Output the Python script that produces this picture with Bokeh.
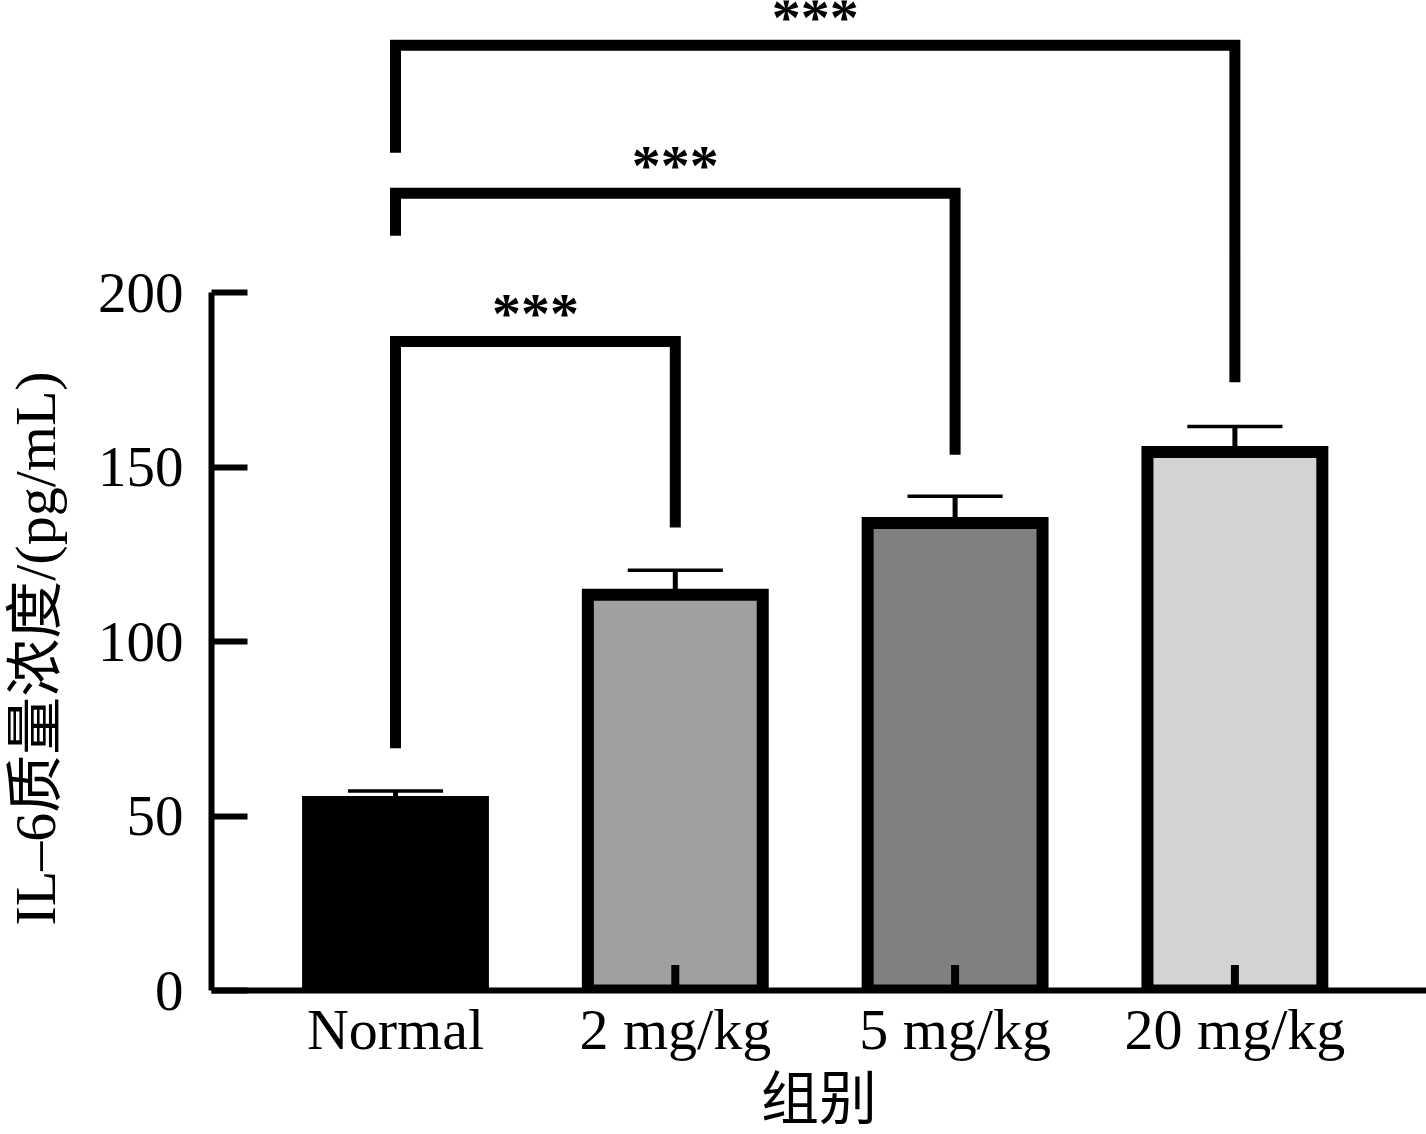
import math
from bokeh.plotting import figure
from bokeh.models import Range1d, FixedTicker, Title
from bokeh.core.properties import value
from bokeh.embed import file_html
from bokeh.resources import INLINE

# ---- data ----
groups = ["Normal", "2 mg/kg", "5 mg/kg", "20 mg/kg"]
means = [54.0, 113.4, 134.0, 154.3]
sds = [3.2, 7.0, 7.6, 7.3]
fills = ["#000000", "#a0a0a0", "#808080", "#d3d3d3"]
lower_stub = [7.3, 7.3, 7.3, 7.3]

y_ticks = [0, 50, 100, 150, 200]

comp_from = [0, 0, 0]
comp_to = [1, 2, 3]
bracket_top = [186.0, 228.5, 270.9]
bracket_left_end = [69.4, 216.3, 240.1]
bracket_right_end = [132.7, 153.5, 174.3]
sig_labels = ["***", "***", "***"]

x_title = "组别"
y_title = "IL–6质量浓度/(pg/mL)"

# ---- styles ----
SERIF = "Liberation Serif"
MIXED = "Liberation Serif, Noto Sans CJK SC"
BAR_W = 0.625
CAP_HALF = 0.17
STAR_GAP = 8.0

xs = list(range(len(groups)))
upper = [m + s for m, s in zip(means, sds)]

p = figure(width=1426, height=1134,
           x_range=Range1d(-0.6576, 3.6848), y_range=Range1d(0, 283.7),
           output_backend="svg", toolbar_location=None,
           min_border_left=211, min_border_right=0, min_border_top=0,
           min_border_bottom=141)
p.outline_line_color = None
p.grid.visible = False
p.background_fill_color = "white"
p.border_fill_color = "white"

# x axis
xa = p.xaxis[0]
xa.ticker = FixedTicker(ticks=xs)
xa.major_label_overrides = {i: g for i, g in zip(xs, groups)}
xa.major_tick_line_color = None
xa.minor_tick_line_color = None
xa.axis_line_width = 6
xa.axis_line_color = "black"
xa.major_label_text_font = SERIF
xa.major_label_text_font_size = "58px"
xa.major_label_text_color = "black"
xa.major_label_standoff = 0
xa.axis_label = x_title
xa.axis_label_text_font = MIXED
xa.axis_label_text_font_size = "58px"
xa.axis_label_text_font_style = "normal"
xa.axis_label_text_color = "black"
xa.axis_label_standoff = 2

# y axis
ya = p.yaxis[0]
ya.bounds = (0, 200)
ya.ticker = FixedTicker(ticks=y_ticks)
ya.major_tick_in = 36
ya.major_tick_out = 0
ya.major_tick_line_width = 6
ya.major_tick_line_color = "black"
ya.minor_tick_line_color = None
ya.axis_line_width = 6
ya.axis_line_color = "black"
ya.major_label_text_font = SERIF
ya.major_label_text_font_size = "57px"
ya.major_label_text_color = "black"
ya.major_label_standoff = 28
# invisible spacer label: only widens the gap between tick labels and title
ya.axis_label = "\u00a0"
ya.axis_label_text_font_size = "2px"
ya.axis_label_standoff = 20

# y axis title placed beside the axis, aligned to the 0-200 span
p.add_layout(Title(text=y_title, align="left", offset=65, standoff=0,
                   vertical_align="top",
                   text_font=MIXED, text_font_size="58px",
                   text_font_style="normal", text_color="black"), "left")

# bars
p.vbar(x=xs, top=means, bottom=0, width=BAR_W, fill_color=fills,
       line_color="black", line_width=12, line_join="miter")

# lower stubs inside bars
p.segment(x0=xs, y0=[0] * len(xs), x1=xs, y1=lower_stub,
          line_color="black", line_width=8)

# error bars
p.segment(x0=xs, y0=means, x1=xs, y1=upper, line_color="black", line_width=5)
p.segment(x0=[x - CAP_HALF for x in xs], y0=upper,
          x1=[x + CAP_HALF for x in xs], y1=upper,
          line_color="black", line_width=3.5)

# significance brackets
bx = [[f, f, t, t] for f, t in zip(comp_from, comp_to)]
by = [[le, tp, tp, re] for le, tp, re in zip(bracket_left_end, bracket_top, bracket_right_end)]
p.multi_line(xs=bx, ys=by, line_color="black", line_width=11,
             line_join="miter", line_cap="butt")

p.text(x=[(f + t) / 2 for f, t in zip(comp_from, comp_to)],
       y=[tp + STAR_GAP for tp in bracket_top], text=sig_labels,
       text_font=value(SERIF), text_font_size="58px", text_font_style="bold",
       text_color="black", text_align="center", text_baseline="middle")

open("out.html", "w").write(file_html(p, INLINE))
